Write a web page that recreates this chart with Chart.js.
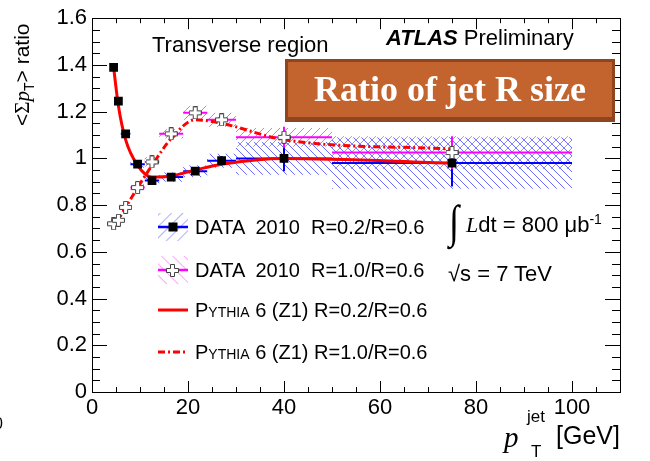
<!DOCTYPE html>
<html>
<head>
<meta charset="utf-8">
<script src="https://cdn.jsdelivr.net/npm/chart.js@4.4.1/dist/chart.umd.min.js"></script>
<style>
body { margin: 0; background: #fff; }
#wrap { position: relative; width: 650px; height: 461px; overflow: hidden; font-family: "Liberation Sans", Arial, sans-serif; color: #000; }
#c { position: absolute; left: 0; top: 0; }
.t { position: absolute; white-space: pre; line-height: 1; }
.serif { font-family: "Liberation Serif", "DejaVu Serif", serif; }
.sc { font-variant: small-caps; }
</style>
</head>
<body>
<div id="wrap">
<canvas id="c" width="650" height="461"></canvas>

<!-- axis titles -->
<div class="t" style="left:11px; top:126px; font-size:21px; transform:rotate(-90deg); transform-origin:left top;">&lt;<span class="serif">Σ</span><i class="serif">p</i><sub style="font-size:14px;">T</sub>&gt; ratio</div>
<div class="t serif" style="left:504px; top:423px; font-size:29px;"><i>p</i></div>
<div class="t" style="left:527px; top:408px; font-size:17px;">jet</div>
<div class="t" style="left:531px; top:443px; font-size:17px;">T</div>
<div class="t" style="right:30px; top:423px; font-size:25px;">[GeV]</div>
<div class="t" style="left:-6px; top:416px; font-size:16px;">0</div>

<!-- labels -->
<div class="t" style="left:152px; top:34px; font-size:22px;">Transverse region</div>
<div class="t" style="left:386px; top:27px; font-size:22px;"><b><i>ATLAS</i></b> Preliminary</div>
<div style="position:absolute; left:285px; top:59px; width:324px; height:55px; background:#c3632e; border:3px solid #8f4620; border-bottom-width:5px;"></div>
<div class="t serif" style="left:285px; top:71px; width:330px; text-align:center; font-size:36px; font-weight:bold; color:#fff;">Ratio of jet R size</div>

<div class="t serif" style="left:449px; top:199px; font-size:46px; transform:scaleX(0.8); transform-origin:left top;">∫</div>
<div class="t" style="left:466px; top:212px; font-size:22px;"><i class="serif">L</i>dt = 800 μb<sup style="font-size:14px;">-1</sup></div>
<div class="t" style="left:448px; top:263px; font-size:22px;">√s = 7 TeV</div>

<!-- legend -->
<svg style="position:absolute; left:150px; top:200px;" width="50" height="170">
  <defs>
    <pattern id="hb" width="8" height="8" patternUnits="userSpaceOnUse" patternTransform="rotate(45)">
      <line x1="0" y1="0" x2="0" y2="8" stroke="#6b6bff" stroke-width="1.1"/>
    </pattern>
    <pattern id="hp" width="8" height="8" patternUnits="userSpaceOnUse" patternTransform="rotate(-45)">
      <line x1="0" y1="0" x2="0" y2="8" stroke="#ff5cff" stroke-width="1.1"/>
    </pattern>
  </defs>
  <rect x="8" y="13" width="30" height="28" fill="url(#hb)"/>
  <line x1="8" y1="27" x2="38" y2="27" stroke="#0000ff" stroke-width="2.5"/>
  <rect x="18.5" y="22.5" width="9" height="9" fill="#000"/>
  <rect x="8" y="56" width="30" height="28" fill="url(#hp)"/>
  <line x1="8" y1="70" x2="38" y2="70" stroke="#ff00ff" stroke-width="2.5"/>
  <path d="M20.5 64.5 h4 v4 h4 v4 h-4 v4 h-4 v-4 h-4 v-4 h4 z" fill="#fff" stroke="#444" stroke-width="1"/>
  <line x1="8" y1="110" x2="38" y2="110" stroke="#ff0000" stroke-width="3"/>
  <line x1="8" y1="152" x2="38" y2="152" stroke="#ff0000" stroke-width="3" stroke-dasharray="7,3,2,3"/>
</svg>
<div class="t" style="left:195px; top:217px; font-size:20px;">DATA  2010  R=0.2/R=0.6</div>
<div class="t" style="left:195px; top:260px; font-size:20px;">DATA  2010  R=1.0/R=0.6</div>
<div class="t" style="left:195px; top:300px; font-size:20px;"><span class="sc">Pythia</span> 6 (Z1) R=0.2/R=0.6</div>
<div class="t" style="left:195px; top:342px; font-size:20px;"><span class="sc">Pythia</span> 6 (Z1) R=1.0/R=0.6</div>
</div>

<script>
// jet pT bins (GeV)
var binCenters = [4.5, 5.5, 7, 9.5, 12.5, 16.5, 21.5, 27, 40, 75];
var binLow     = [4, 5, 6, 8, 11, 14, 19, 24, 30, 50];
var binHigh    = [5, 6, 8, 11, 14, 19, 24, 30, 50, 100];

// DATA 2010 R=0.2/R=0.6
var data02 = [1.39, 1.245, 1.105, 0.975, 0.905, 0.92, 0.945, 0.99, 1.0, 0.98];
var stat02 = [0.005, 0.005, 0.005, 0.006, 0.008, 0.01, 0.015, 0.02, 0.055, 0.1];
var sys02  = [0.01, 0.01, 0.01, 0.015, 0.015, 0.02, 0.025, 0.03, 0.07, 0.11];

// DATA 2010 R=1.0/R=0.6
var data10 = [0.72, 0.735, 0.79, 0.875, 0.985, 1.105, 1.195, 1.165, 1.09, 1.025];
var stat10 = [0.005, 0.005, 0.005, 0.006, 0.008, 0.01, 0.015, 0.02, 0.045, 0.07];
var sys10  = [0.01, 0.01, 0.01, 0.015, 0.02, 0.02, 0.03, 0.03, 0.04, 0.07];

// Pythia 6 (Z1)
var py02 = [1.39, 1.225, 1.08, 0.97, 0.92, 0.925, 0.95, 0.975, 1.0, 0.98];
var py10 = [0.72, 0.74, 0.79, 0.875, 0.97, 1.085, 1.165, 1.15, 1.08, 1.04];

var xTicks = [0, 20, 40, 60, 80, 100];
var yTicks = [0, 0.2, 0.4, 0.6, 0.8, 1, 1.2, 1.4, 1.6];

function toPoints(xs, ys) {
    return xs.map(function (x, i) { return {x: x, y: ys[i]}; });
}

function hatchPattern(ctx, color, forward) {
    var c = document.createElement('canvas');
    c.width = 8; c.height = 8;
    var g = c.getContext('2d');
    g.strokeStyle = color;
    g.lineWidth = 1;
    g.beginPath();
    if (forward) {
        g.moveTo(-1, 9); g.lineTo(9, -1);
    } else {
        g.moveTo(-1, -1); g.lineTo(9, 9);
    }
    g.stroke();
    return ctx.createPattern(c, 'repeat');
}

function openCross() {
    var c = document.createElement('canvas');
    c.width = 13; c.height = 13;
    var g = c.getContext('2d');
    g.beginPath();
    g.moveTo(4.5, 0.5); g.lineTo(8.5, 0.5); g.lineTo(8.5, 4.5); g.lineTo(12.5, 4.5);
    g.lineTo(12.5, 8.5); g.lineTo(8.5, 8.5); g.lineTo(8.5, 12.5); g.lineTo(4.5, 12.5);
    g.lineTo(4.5, 8.5); g.lineTo(0.5, 8.5); g.lineTo(0.5, 4.5); g.lineTo(4.5, 4.5);
    g.closePath();
    g.fillStyle = '#fff';
    g.fill();
    g.strokeStyle = '#444';
    g.lineWidth = 1;
    g.stroke();
    return c;
}

var atlasPlugin = {
    id: 'atlas',
    beforeDatasetsDraw: function (chart) {
        var ctx = chart.ctx, xs = chart.scales.x, ys = chart.scales.y;
        var blue = hatchPattern(ctx, '#6b6bff', false);
        var pink = hatchPattern(ctx, '#ff5cff', true);

        function bands(vals, sys, pattern) {
            ctx.fillStyle = pattern;
            for (var i = 0; i < vals.length; i++) {
                var x0 = xs.getPixelForValue(binLow[i]), x1 = xs.getPixelForValue(binHigh[i]);
                var y0 = ys.getPixelForValue(vals[i] + sys[i]), y1 = ys.getPixelForValue(vals[i] - sys[i]);
                ctx.fillRect(x0, y0, x1 - x0, y1 - y0);
            }
        }

        function bars(vals, stat, color) {
            ctx.strokeStyle = color;
            ctx.lineWidth = 2;
            ctx.beginPath();
            for (var i = 0; i < vals.length; i++) {
                var y = ys.getPixelForValue(vals[i]);
                ctx.moveTo(xs.getPixelForValue(binLow[i]), y);
                ctx.lineTo(xs.getPixelForValue(binHigh[i]), y);
                var xc = xs.getPixelForValue(binCenters[i]);
                ctx.moveTo(xc, ys.getPixelForValue(vals[i] + stat[i]));
                ctx.lineTo(xc, ys.getPixelForValue(vals[i] - stat[i]));
            }
            ctx.stroke();
        }

        ctx.save();
        bands(data02, sys02, blue);
        bands(data10, sys10, pink);
        bars(data02, stat02, '#0000ff');
        bars(data10, stat10, '#ff00ff');
        ctx.restore();
    },
    afterDraw: function (chart) {
        var ctx = chart.ctx, a = chart.chartArea, xs = chart.scales.x, ys = chart.scales.y;
        ctx.save();
        ctx.strokeStyle = '#000';
        ctx.lineWidth = 1;
        ctx.strokeRect(Math.round(a.left) + 0.5, Math.round(a.top) + 0.5,
            Math.round(a.right - a.left), Math.round(a.bottom - a.top));
        ctx.beginPath();
        // x ticks, bottom and top, inward
        for (var v = 0; v <= 110; v += 5) {
            var px = Math.round(xs.getPixelForValue(v)) + 0.5;
            var len = (v % 20 === 0) ? 11 : 5;
            ctx.moveTo(px, a.bottom); ctx.lineTo(px, a.bottom - len);
            ctx.moveTo(px, a.top); ctx.lineTo(px, a.top + len);
        }
        // y ticks, left and right, inward
        for (var k = 0; k <= 32; k++) {
            var py = Math.round(ys.getPixelForValue(k * 0.05)) + 0.5;
            var l2 = (k % 4 === 0) ? 15 : 8;
            ctx.moveTo(a.left, py); ctx.lineTo(a.left + l2, py);
            ctx.moveTo(a.right, py); ctx.lineTo(a.right - l2, py);
        }
        ctx.stroke();
        ctx.restore();
    }
};

var tickFont = {family: "'Liberation Sans', Arial, sans-serif", size: 22};

new Chart(document.getElementById('c'), {
    type: 'line',
    data: {
        datasets: [{
            label: 'DATA 2010 R=0.2/R=0.6',
            data: toPoints(binCenters, data02),
            showLine: false,
            pointStyle: 'rect',
            pointRadius: 6.2,
            backgroundColor: '#000',
            borderColor: '#000',
            borderWidth: 0,
            order: 0
        }, {
            label: 'DATA 2010 R=1.0/R=0.6',
            data: toPoints(binCenters, data10),
            showLine: false,
            pointStyle: openCross(),
            pointRadius: 6,
            order: 0
        }, {
            label: 'Pythia 6 (Z1) R=0.2/R=0.6',
            data: toPoints(binCenters, py02),
            borderColor: '#ff0000',
            borderWidth: 3,
            pointRadius: 0,
            cubicInterpolationMode: 'monotone',
            order: 1
        }, {
            label: 'Pythia 6 (Z1) R=1.0/R=0.6',
            data: toPoints(binCenters, py10),
            borderColor: '#ff0000',
            borderWidth: 3,
            borderDash: [7, 3, 2, 3],
            pointRadius: 0,
            cubicInterpolationMode: 'monotone',
            order: 1
        }]
    },
    options: {
        responsive: false,
        devicePixelRatio: 1,
        animation: false,
        layout: {padding: {left: 0, right: 30, top: 14, bottom: 0}},
        plugins: {legend: {display: false}, tooltip: {enabled: false}},
        scales: {
            x: {
                type: 'linear', min: 0, max: 110,
                grid: {display: false, drawTicks: false},
                border: {display: false},
                afterBuildTicks: function (s) { s.ticks = xTicks.map(function (v) { return {value: v}; }); },
                afterFit: function (s) { s.height = 69; },
                ticks: {font: tickFont, color: '#000', padding: 3, maxRotation: 0, autoSkip: false,
                    callback: function (v) { return String(v); }}
            },
            y: {
                type: 'linear', min: 0, max: 1.6,
                grid: {display: false, drawTicks: false},
                border: {display: false},
                afterBuildTicks: function (s) { s.ticks = yTicks.map(function (v) { return {value: v}; }); },
                afterFit: function (s) { s.width = 92; },
                ticks: {font: tickFont, color: '#000', padding: 5, autoSkip: false,
                    callback: function (v) { return String(v); }}
            }
        }
    },
    plugins: [atlasPlugin]
});
</script>
</body>
</html>
